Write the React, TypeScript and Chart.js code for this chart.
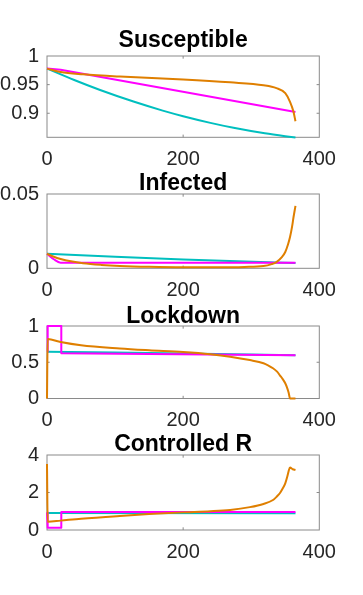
import React, { useEffect, useRef } from "react";
import { Chart, registerables } from "chart.js";

Chart.register(...registerables);

const CYAN = "#00BFBF";
const MAGENTA = "#FF00FF";
const ORANGE = "#DF7F00";
const FONT = "'Liberation Sans', Arial, Helvetica, sans-serif";

// x axis (days)
const xTickValues = [0, 200, 400];

// ---- Susceptible ----
const susCyanDays = [0, 40, 78, 127, 170, 200, 240, 274, 320, 365];
const susCyanVals = [0.978, 0.958, 0.9406, 0.9204, 0.9046, 0.8948, 0.8832, 0.8746, 0.8649, 0.8576];
const susMagentaDays = [0, 20, 365];
const susMagentaVals = [0.978, 0.976, 0.902];
const susOrangeDays = [0, 20, 53, 107, 200, 269, 318, 337, 350, 357, 362, 365];
const susOrangeVals = [0.978, 0.972, 0.968, 0.964, 0.959, 0.954, 0.949, 0.944, 0.935, 0.92, 0.903, 0.886];
const susTicks = [0.9, 0.95, 1];
const susTickLabels = ["0.9", "0.95", "1"];

// ---- Infected ----
const infCyanDays = [0, 100, 200, 280, 365];
const infCyanVals = [0.0098, 0.0078, 0.006, 0.0047, 0.0035];
const infMagentaDays = [0, 10, 20, 365];
const infMagentaVals = [0.0098, 0.0061, 0.0038, 0.0038];
const infOrangeDays = [0, 10, 20, 35, 53, 80, 107, 150, 200, 250, 290, 318, 330, 337, 345, 350, 354, 357, 360, 362, 365];
const infOrangeVals = [0.0098, 0.0078, 0.0063, 0.0047, 0.0034, 0.0023, 0.0016, 0.001, 0.0007, 0.0007, 0.0009, 0.0015, 0.0028, 0.0042, 0.0075, 0.011, 0.016, 0.021, 0.028, 0.034, 0.042];
const infTicks = [0, 0.05];
const infTickLabels = ["0", "0.05"];

// ---- Lockdown ----
const lockCyanDays = [0, 100, 200, 300, 365];
const lockCyanVals = [0.646, 0.636, 0.622, 0.606, 0.597];
const stepDays = [0, 1, 21, 21, 365];
const lockMagentaVals = [0.646, 1, 1, 0.623, 0.596];
const lockOrangeDays = [0, 1, 20, 50, 107, 150, 200, 240, 269, 298, 318, 326, 332, 338, 342, 346, 350, 353, 355, 357, 365];
const lockOrangeVals = [0, 0.82, 0.78, 0.735, 0.69, 0.665, 0.64, 0.61, 0.577, 0.53, 0.486, 0.45, 0.417, 0.37, 0.32, 0.27, 0.21, 0.14, 0.08, 0, 0];
const lockTicks = [0, 0.5, 1];
const lockTickLabels = ["0", "0.5", "1"];

// ---- Controlled R ----
const rCyanDays = [0, 365];
const rCyanVals = [0.91, 0.9];
const rMagentaVals = [0.93, 0.12, 0.12, 0.96, 0.96];
const rOrangeDays = [0, 1, 20, 50, 107, 150, 200, 240, 269, 298, 318, 332, 338, 342, 346, 350, 353, 355, 357, 361, 365];
const rOrangeVals = [3.52, 0.44, 0.5, 0.6, 0.75, 0.85, 0.94, 1.0, 1.07, 1.22, 1.39, 1.6, 1.8, 1.96, 2.2, 2.49, 2.85, 3.15, 3.34, 3.24, 3.2];
const rTicks = [0, 2, 4];
const rTickLabels = ["0", "2", "4"];

const W = 363;
const PLOT_LEFT = 47;
const PLOT_RIGHT = 319.3;
const TOP_ROOM = 40;
const BOTTOM_ROOM = 38;

type Series = { days: number[]; vals: number[]; color: string; smooth: boolean };

type PanelProps = {
  title: string;
  plotTop: number;
  plotBottom: number;
  titleGap: number;
  yMin: number;
  yMax: number;
  yTicks: number[];
  yLabels: string[];
  series: Series[];
};

function Panel(p: PanelProps) {
  const ref = useRef<HTMLCanvasElement | null>(null);
  const canvasTop = p.plotTop - TOP_ROOM;
  const canvasH = Math.ceil(p.plotBottom - p.plotTop + TOP_ROOM + BOTTOM_ROOM);

  useEffect(() => {
    if (!ref.current) return;
    const bottomPad = canvasH - BOTTOM_ROOM - (p.plotBottom - canvasTop);
    const boxPlugin = {
      id: "matlabBox",
      beforeDatasetsDraw(chart: any) {
        const { ctx, chartArea } = chart;
        const { left, right, top, bottom } = chartArea;
        ctx.save();
        ctx.strokeStyle = "#8a8a8a";
        ctx.lineWidth = 1;
        ctx.strokeRect(left, top, right - left, bottom - top);
        const tl = 2.7;
        const ys = chart.scales.y;
        const xs = chart.scales.x;
        ctx.beginPath();
        for (const v of p.yTicks) {
          const py = ys.getPixelForValue(v);
          if (Math.abs(py - top) < 1 || Math.abs(py - bottom) < 1) continue;
          ctx.moveTo(left, py);
          ctx.lineTo(left + tl, py);
          ctx.moveTo(right, py);
          ctx.lineTo(right - tl, py);
        }
        for (const v of xTickValues) {
          const px = xs.getPixelForValue(v);
          if (Math.abs(px - left) < 1 || Math.abs(px - right) < 1) continue;
          ctx.moveTo(px, bottom);
          ctx.lineTo(px, bottom - tl);
          ctx.moveTo(px, top);
          ctx.lineTo(px, top + tl);
        }
        ctx.stroke();
        ctx.restore();
      },
      afterDraw(chart: any) {
        const { ctx, chartArea } = chart;
        ctx.save();
        ctx.fillStyle = "#000000";
        ctx.font = `bold 23px ${FONT}`;
        ctx.textAlign = "center";
        ctx.textBaseline = "alphabetic";
        ctx.fillText(p.title, (chartArea.left + chartArea.right) / 2, chartArea.top - p.titleGap);
        ctx.restore();
      },
    };

    const datasets = p.series.map((s, i) => ({
      data: s.days.map((d, k) => ({ x: d, y: s.vals[k] })),
      borderColor: s.color,
      backgroundColor: s.color,
      borderWidth: 2,
      pointRadius: 0,
      fill: false,
      tension: 0,
      cubicInterpolationMode: s.smooth ? ("monotone" as const) : ("default" as const),
      borderJoinStyle: "round" as const,
      clip: false as any,
      order: i,
    }));

    const chart = new Chart(ref.current, {
      type: "line",
      data: { datasets },
      plugins: [boxPlugin],
      options: {
        animation: false,
        responsive: false,
        devicePixelRatio: 1,
        events: [],
        layout: {
          padding: { top: TOP_ROOM, left: 0, right: W - PLOT_RIGHT, bottom: bottomPad },
        },
        plugins: { legend: { display: false }, tooltip: { enabled: false }, title: { display: false } },
        scales: {
          x: {
            type: "linear",
            min: 0,
            max: 400,
            afterBuildTicks: (s: any) => {
              s.ticks = xTickValues.map((v) => ({ value: v }));
            },
            afterFit: (s: any) => {
              s.height = BOTTOM_ROOM;
            },
            grid: { display: false, drawTicks: false },
            border: { display: false },
            ticks: {
              autoSkip: false,
              maxRotation: 0,
              padding: 10,
              color: "#262626",
              font: { family: FONT, size: 20 },
              callback: (v: any) => String(v),
            },
          },
          y: {
            type: "linear",
            min: p.yMin,
            max: p.yMax,
            afterBuildTicks: (s: any) => {
              s.ticks = p.yTicks.map((v) => ({ value: v }));
            },
            afterFit: (s: any) => {
              s.width = PLOT_LEFT;
            },
            grid: { display: false, drawTicks: false },
            border: { display: false },
            ticks: {
              autoSkip: false,
              padding: 8,
              color: "#262626",
              font: { family: FONT, size: 20 },
              callback: (v: any) => {
                const idx = p.yTicks.findIndex((t) => Math.abs(t - v) < 1e-9);
                return idx >= 0 ? p.yLabels[idx] : "";
              },
            },
          },
        },
      } as any,
    });
    return () => chart.destroy();
  }, []);

  return (
    <canvas
      ref={ref}
      width={W}
      height={canvasH}
      style={{ position: "absolute", left: 0, top: canvasTop, width: W, height: canvasH }}
    />
  );
}

export default function App() {
  return (
    <div style={{ position: "fixed", left: 0, top: 0, width: W, height: 595, background: "#ffffff", overflow: "hidden" }}>
      <Panel
        title="Susceptible"
        plotTop={56}
        plotBottom={137.3}
        titleGap={9.3}
        yMin={0.858}
        yMax={1}
        yTicks={susTicks}
        yLabels={susTickLabels}
        series={[
          { days: susOrangeDays, vals: susOrangeVals, color: ORANGE, smooth: true },
          { days: susMagentaDays, vals: susMagentaVals, color: MAGENTA, smooth: false },
          { days: susCyanDays, vals: susCyanVals, color: CYAN, smooth: true },
        ]}
      />
      <Panel
        title="Infected"
        plotTop={194}
        plotBottom={268.3}
        titleGap={4}
        yMin={0}
        yMax={0.05}
        yTicks={infTicks}
        yLabels={infTickLabels}
        series={[
          { days: infOrangeDays, vals: infOrangeVals, color: ORANGE, smooth: true },
          { days: infMagentaDays, vals: infMagentaVals, color: MAGENTA, smooth: true },
          { days: infCyanDays, vals: infCyanVals, color: CYAN, smooth: true },
        ]}
      />
      <Panel
        title="Lockdown"
        plotTop={326}
        plotBottom={398.5}
        titleGap={2.7}
        yMin={0}
        yMax={1}
        yTicks={lockTicks}
        yLabels={lockTickLabels}
        series={[
          { days: lockOrangeDays, vals: lockOrangeVals, color: ORANGE, smooth: true },
          { days: stepDays, vals: lockMagentaVals, color: MAGENTA, smooth: false },
          { days: lockCyanDays, vals: lockCyanVals, color: CYAN, smooth: true },
        ]}
      />
      <Panel
        title="Controlled R"
        plotTop={455}
        plotBottom={530}
        titleGap={4.3}
        yMin={0}
        yMax={4}
        yTicks={rTicks}
        yLabels={rTickLabels}
        series={[
          { days: rOrangeDays, vals: rOrangeVals, color: ORANGE, smooth: true },
          { days: stepDays, vals: rMagentaVals, color: MAGENTA, smooth: false },
          { days: rCyanDays, vals: rCyanVals, color: CYAN, smooth: false },
        ]}
      />
    </div>
  );
}
